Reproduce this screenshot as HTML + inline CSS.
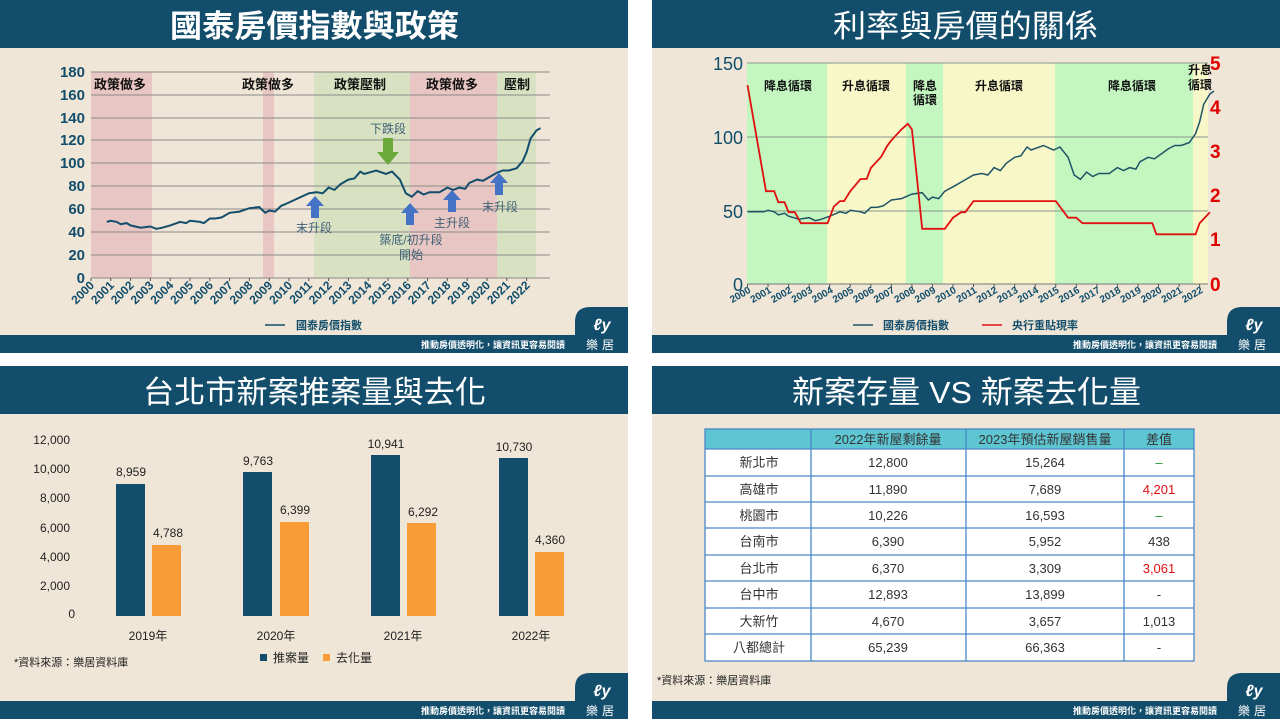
<!DOCTYPE html>
<html><head><meta charset="utf-8"><style>
body{margin:0;background:#fff;}
svg{display:block;font-family:"Liberation Sans","Noto Sans CJK TC",sans-serif;}
</style></head><body>
<svg id="s" width="1280" height="720" viewBox="0 0 1280 720" xmlns="http://www.w3.org/2000/svg">
<rect width="1280" height="720" fill="#fff"/>
<g id="panels"></g>

<!-- ===== Panel 1 ===== -->
<g id="p1bands">
<rect x="91" y="72" width="61" height="206" fill="#e8c6c3"/>
<rect x="263" y="72" width="11" height="206" fill="#e8c6c3"/>
<rect x="314" y="72" width="96" height="206" fill="#d8e2c2"/>
<rect x="410" y="72" width="87" height="206" fill="#e8c6c3"/>
<rect x="497" y="72" width="39" height="206" fill="#d8e2c2"/>
</g>
<g stroke="#8a8a8a" stroke-width="1">
<line x1="91" y1="72" x2="550" y2="72"/><line x1="91" y1="95" x2="550" y2="95"/><line x1="91" y1="118" x2="550" y2="118"/><line x1="91" y1="140" x2="550" y2="140"/><line x1="91" y1="163" x2="550" y2="163"/><line x1="91" y1="186" x2="550" y2="186"/><line x1="91" y1="209" x2="550" y2="209"/><line x1="91" y1="232" x2="550" y2="232"/><line x1="91" y1="255" x2="550" y2="255"/><line x1="91" y1="278" x2="550" y2="278"/>
</g>
<g font-size="15" font-weight="bold" fill="#124e6c" text-anchor="end">
<text x="85" y="77">180</text><text x="85" y="100">160</text><text x="85" y="123">140</text><text x="85" y="145">120</text><text x="85" y="168">100</text><text x="85" y="191">80</text><text x="85" y="214">60</text><text x="85" y="237">40</text><text x="85" y="260">20</text><text x="85" y="283">0</text>
</g>
<g id="p1x" font-size="12" font-weight="bold" fill="#124e6c" text-anchor="end"></g>
<path id="p1line" fill="none" stroke="#124e6c" stroke-width="2"/>
<g font-size="13" font-weight="bold" fill="#111">
<text x="94" y="89">政策做多</text><text x="242" y="89">政策做多</text><text x="334" y="89">政策壓制</text><text x="426" y="89">政策做多</text><text x="504" y="89">壓制</text>
</g>
<polygon points="383,138 393,138 393,152 399,152 388,165 377,152 383,152" fill="#6aaa3a"/>
<g fill="#4472c4">
<polygon points="311,218 319,218 319,206 324,206 315,196 306,206 311,206"/>
<polygon points="406,225 414,225 414,213 419,213 410,203 401,213 406,213"/>
<polygon points="448,212 456,212 456,200 461,200 452,190 443,200 448,200"/>
<polygon points="495,195 503,195 503,183 508,183 499,173 490,183 495,183"/>
</g>
<g font-size="12" fill="#3d5f75" text-anchor="middle">
<text x="388" y="133">下跌段</text><text x="314" y="232">末升段</text><text x="411" y="244">築底/初升段</text><text x="411" y="259">開始</text><text x="452" y="227">主升段</text><text x="500" y="211">末升段</text>
</g>
<line x1="265" y1="325" x2="285" y2="325" stroke="#124e6c" stroke-width="1.5"/>
<text x="296" y="329" font-size="11" font-weight="bold" fill="#124e6c">國泰房價指數</text>

<!-- ===== Panel 2 ===== -->
<rect x="747" y="63" width="80" height="221" fill="#c4f7c0"/>
<rect x="827" y="63" width="79" height="221" fill="#f7f7c8"/>
<rect x="906" y="63" width="37" height="221" fill="#c4f7c0"/>
<rect x="943" y="63" width="112" height="221" fill="#f7f7c8"/>
<rect x="1055" y="63" width="138" height="221" fill="#c4f7c0"/>
<rect x="1193" y="63" width="15" height="221" fill="#f7f7c8"/>
<g stroke="#8a9a8a" stroke-width="1"><line x1="747" y1="63" x2="1208" y2="63"/><line x1="747" y1="137" x2="1208" y2="137"/><line x1="747" y1="211" x2="1208" y2="211"/></g>
<line x1="747" y1="284" x2="1208" y2="284" stroke="#777"/>
<g font-size="18" fill="#124e6c" text-anchor="end"><text x="743" y="70">150</text><text x="743" y="144">100</text><text x="743" y="218">50</text><text x="743" y="291">0</text></g>
<g font-size="19" font-weight="bold" fill="#e00000"><text x="1210" y="70">5</text><text x="1210" y="114">4</text><text x="1210" y="158">3</text><text x="1210" y="202">2</text><text x="1210" y="246">1</text><text x="1210" y="291">0</text></g>
<g id="p2x" font-size="10" font-weight="bold" fill="#124e6c" text-anchor="end"></g>
<path id="p2idx" fill="none" stroke="#1f5466" stroke-width="1.5"/>
<path id="p2rate" fill="none" stroke="#e01010" stroke-width="1.8"/>
<g font-size="12" font-weight="bold" fill="#111" text-anchor="middle">
<text x="788" y="90">降息循環</text><text x="866" y="90">升息循環</text><text x="925" y="90">降息</text><text x="925" y="104">循環</text><text x="999" y="90">升息循環</text><text x="1132" y="90">降息循環</text><text x="1200" y="74">升息</text><text x="1200" y="89">循環</text>
</g>
<line x1="853" y1="325" x2="873" y2="325" stroke="#1f5466" stroke-width="1.5"/>
<text x="883" y="329" font-size="11" font-weight="bold" fill="#124e6c">國泰房價指數</text>
<line x1="982" y1="325" x2="1002" y2="325" stroke="#e01010" stroke-width="1.5"/>
<text x="1012" y="329" font-size="11" font-weight="bold" fill="#124e6c">央行重貼現率</text>

<!-- ===== Panel 3 ===== -->
<g font-size="12" fill="#222" text-anchor="end">
<text x="70" y="444">12,000</text><text x="70" y="473">10,000</text><text x="70" y="502">8,000</text><text x="70" y="532">6,000</text><text x="70" y="561">4,000</text><text x="70" y="590">2,000</text><text x="75" y="618">0</text>
</g>
<g fill="#124e6c"><rect x="116" y="484" width="29" height="132"/><rect x="243" y="472" width="29" height="144"/><rect x="371" y="455" width="29" height="161"/><rect x="499" y="458" width="29" height="158"/></g>
<g fill="#f99c38"><rect x="152" y="545" width="29" height="71"/><rect x="280" y="522" width="29" height="94"/><rect x="407" y="523" width="29" height="93"/><rect x="535" y="552" width="29" height="64"/></g>
<g font-size="12" fill="#222" text-anchor="middle">
<text x="131" y="476">8,959</text><text x="168" y="537">4,788</text>
<text x="258" y="465">9,763</text><text x="295" y="514">6,399</text>
<text x="386" y="448">10,941</text><text x="423" y="516">6,292</text>
<text x="514" y="451">10,730</text><text x="550" y="544">4,360</text>
<text x="148" y="640">2019年</text><text x="276" y="640">2020年</text><text x="403" y="640">2021年</text><text x="531" y="640">2022年</text>
</g>
<rect x="260" y="654" width="7" height="7" fill="#124e6c"/><text x="273" y="662" font-size="12" fill="#222">推案量</text>
<rect x="323" y="654" width="7" height="7" fill="#f99c38"/><text x="336" y="662" font-size="12" fill="#222">去化量</text>
<text x="14" y="666" font-size="11" fill="#222">*資料來源：樂居資料庫</text>

<!-- ===== Panel 4 ===== -->
<rect x="705" y="429" width="489" height="20" fill="#5ec5d2"/>
<rect x="705" y="449" width="489" height="212" fill="#fff"/>
<g stroke="#4a86c8" stroke-width="1.3" fill="none">
<rect x="705" y="429" width="489" height="232"/>
<line x1="811" y1="429" x2="811" y2="661"/><line x1="966" y1="429" x2="966" y2="661"/><line x1="1124" y1="429" x2="1124" y2="661"/>
<line x1="705" y1="449" x2="1194" y2="449"/><line x1="705" y1="476" x2="1194" y2="476"/><line x1="705" y1="502" x2="1194" y2="502"/><line x1="705" y1="528" x2="1194" y2="528"/><line x1="705" y1="555" x2="1194" y2="555"/><line x1="705" y1="581" x2="1194" y2="581"/><line x1="705" y1="608" x2="1194" y2="608"/><line x1="705" y1="634" x2="1194" y2="634"/>
</g>
<g font-size="13" fill="#333" text-anchor="middle">
<text x="888" y="444">2022年新屋剩餘量</text><text x="1045" y="444">2023年預估新屋銷售量</text><text x="1159" y="444">差值</text>
<text x="759" y="467">新北市</text><text x="888" y="467">12,800</text><text x="1045" y="467">15,264</text><text x="1159" y="467" fill="#1a9a3a">–</text>
<text x="759" y="494">高雄市</text><text x="888" y="494">11,890</text><text x="1045" y="494">7,689</text><text x="1159" y="494" fill="#e01010">4,201</text>
<text x="759" y="520">桃園市</text><text x="888" y="520">10,226</text><text x="1045" y="520">16,593</text><text x="1159" y="520" fill="#1a9a3a">–</text>
<text x="759" y="546">台南市</text><text x="888" y="546">6,390</text><text x="1045" y="546">5,952</text><text x="1159" y="546">438</text>
<text x="759" y="573">台北市</text><text x="888" y="573">6,370</text><text x="1045" y="573">3,309</text><text x="1159" y="573" fill="#e01010">3,061</text>
<text x="759" y="599">台中市</text><text x="888" y="599">12,893</text><text x="1045" y="599">13,899</text><text x="1159" y="599">-</text>
<text x="759" y="626">大新竹</text><text x="888" y="626">4,670</text><text x="1045" y="626">3,657</text><text x="1159" y="626">1,013</text>
<text x="759" y="652">八都總計</text><text x="888" y="652">65,239</text><text x="1045" y="652">66,363</text><text x="1159" y="652">-</text>
</g>
<text x="657" y="684" font-size="11" fill="#222">*資料來源：樂居資料庫</text>
</svg>
<script>
var NS="http://www.w3.org/2000/svg";
function el(t,a,p,txt){var e=document.createElementNS(NS,t);for(var k in a)e.setAttribute(k,a[k]);if(txt)e.textContent=txt;(p||document.getElementById('s')).appendChild(e);return e;}
var svg=document.getElementById('s');
var pg=document.getElementById('panels');
var P=[[0,0,628,353,true,"國泰房價指數與政策"],[652,0,628,353,false,"利率與房價的關係"],[0,366,628,353,false,"台北市新案推案量與去化"],[652,366,628,353,false,"新案存量 VS 新案去化量"]];
P.forEach(function(p){
 var x=p[0],y=p[1],w=p[2],h=p[3];
 el('rect',{x:x,y:y,width:w,height:h,fill:'#efe6d7'},pg);
 el('rect',{x:x,y:y,width:w,height:48,fill:'#124e6c'},pg);
 el('rect',{x:x,y:y+335,width:w,height:18,fill:'#124e6c'},pg);
 el('path',{d:'M'+(x+w-53)+' '+(y+353)+' L'+(x+w-53)+' '+(y+322)+' Q'+(x+w-53)+' '+(y+307)+' '+(x+w-38)+' '+(y+307)+' L'+(x+w)+' '+(y+307)+' L'+(x+w)+' '+(y+353)+'Z',fill:'#124e6c'},pg);
 el('text',{x:x+w-26,y:y+330,'font-size':16,'font-style':'italic','font-weight':'bold',fill:'#fff','text-anchor':'middle'},pg,'ℓy');
 el('text',{x:x+w-26,y:y+349,'font-size':12,fill:'#fff','text-anchor':'middle','letter-spacing':'4'},pg,'樂居');
 el('text',{x:x+w-63,y:y+348,'font-size':9,'font-weight':'bold',fill:'#fff','text-anchor':'end'},pg,'推動房價透明化，讓資訊更容易閱讀');
 el('text',{x:x+314,y:y+37,'font-size':31,fill:'#fff','text-anchor':'middle','font-weight':p[4]?'bold':'normal'},pg,p[5]);
});
var tl=[[170,289],[833,265],[143,343],[792,349]];
var ts=pg.getElementsByTagName('text');var ti=0;
for(var i=0;i<ts.length;i++){if(ts[i].getAttribute('font-size')=='31'){var q=tl[ti++];ts[i].setAttribute('text-anchor','start');ts[i].setAttribute('x',q[0]);ts[i].setAttribute('textLength',q[1]);ts[i].setAttribute('lengthAdjust','spacingAndGlyphs');}}
var D=[[2000,49],[2000.8,49],[2001,50],[2001.3,49],[2001.5,47],[2001.8,48],[2002,46],[2002.5,44],[2003,45],[2003.3,43],[2003.6,44],[2004,46],[2004.5,49],[2004.8,48],[2005,50],[2005.5,49],[2005.7,48],[2006,52],[2006.3,52],[2006.6,53],[2007,57],[2007.5,58],[2008,61],[2008.5,62],[2008.8,57],[2009,59],[2009.3,58],[2009.6,63],[2010,66],[2010.5,70],[2011,74],[2011.4,75],[2011.7,74],[2012,79],[2012.3,77],[2012.6,82],[2013,86],[2013.3,87],[2013.6,93],[2013.8,91],[2014.4,94],[2014.9,91],[2015.2,93],[2015.6,86],[2015.9,74],[2016.2,71],[2016.5,76],[2016.8,73],[2017.1,75],[2017.6,75],[2018,79],[2018.3,77],[2018.6,79],[2018.9,78],[2019.1,83],[2019.5,86],[2019.8,85],[2020.1,88],[2020.5,92],[2020.8,94],[2021.1,94],[2021.5,96],[2021.8,102],[2022,110],[2022.2,122],[2022.5,129],[2022.7,131]];
function path(d,fx,fy){return d.map(function(p,i){return (i?'L':'M')+fx(p[0]).toFixed(1)+' '+fy(p[1]).toFixed(1);}).join(' ');}
document.getElementById('p1line').setAttribute('d',path(D.slice(1),function(x){return 91+(x-2000)*19.8;},function(v){return 278-v*1.144;}));
document.getElementById('p2idx').setAttribute('d',path(D,function(x){return 747.5+(x-2000)*20.55;},function(v){return 284-v*1.473;}));
var R=[[2000,4.5],[2000.9,2.1],[2001.3,2.1],[2001.5,1.85],[2001.8,1.85],[2002,1.625],[2002.3,1.625],[2002.6,1.375],[2003.9,1.375],[2004.2,1.75],[2004.5,1.875],[2004.7,1.875],[2005,2.1],[2005.5,2.375],[2005.8,2.375],[2006,2.625],[2006.5,2.875],[2006.8,3.125],[2007,3.25],[2007.5,3.5],[2007.8,3.625],[2008,3.5],[2008.5,1.25],[2009.6,1.25],[2010,1.5],[2010.4,1.625],[2010.6,1.625],[2011,1.875],[2015,1.875],[2015.6,1.5],[2016,1.5],[2016.3,1.375],[2019.7,1.375],[2019.9,1.125],[2021.8,1.125],[2022,1.375],[2022.5,1.625]];
document.getElementById('p2rate').setAttribute('d',path(R,function(x){return 747.5+(x-2000)*20.55;},function(v){return 284-v*44.2;}));
var g1=document.getElementById('p1x'),g2=document.getElementById('p2x');
for(var y=2000;y<=2022;y++){
 var x1=91+(y-2000)*19.8;el('text',{x:x1+4,y:286,transform:'rotate(-45 '+(x1+4)+' 286)'},g1,String(y));
 el('line',{x1:x1,y1:278,x2:x1,y2:281,stroke:'#555'},svg);
 var x2=747.5+(y-2000)*20.55;el('text',{x:x2+4,y:292,transform:'rotate(-30 '+(x2+4)+' 292)'},g2,String(y));
 el('line',{x1:x2,y1:284,x2:x2,y2:287,stroke:'#555'},svg);
}
</script>
</body></html>
